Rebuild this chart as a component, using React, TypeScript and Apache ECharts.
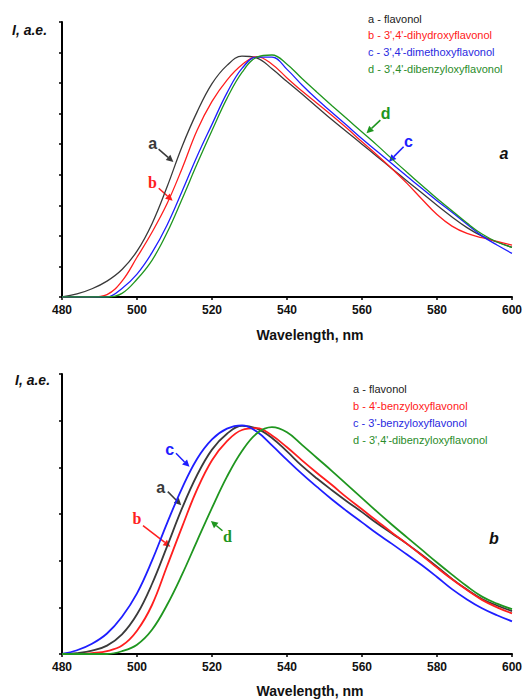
import React, { useEffect, useRef } from "react";
import * as echarts from "echarts";

// Wavelength grid (nm) shared by all spectra
const wavelengths = [480, 484, 488, 492, 496, 500, 504, 508, 512, 516, 520, 524, 528, 532, 536, 540, 544, 548, 552, 556, 560, 564, 568, 572, 576, 580, 584, 588, 592, 596, 600];

// Panel a
const topFlavonol = [0, 0.1, 0.27, 0.52, 0.9, 1.5, 2.4, 3.6, 4.92, 6.05, 6.98, 7.58, 7.88, 7.82, 7.47, 7.05, 6.64, 6.22, 5.8, 5.4, 5.0, 4.6, 4.2, 3.8, 3.4, 3.0, 2.62, 2.27, 1.99, 1.8, 1.63];
const topDihydroxy = [0, 0, 0, 0.08, 0.52, 1.3, 2.12, 3.05, 4.2, 5.45, 6.4, 7.1, 7.6, 7.87, 7.62, 7.17, 6.74, 6.34, 5.94, 5.52, 5.08, 4.65, 4.2, 3.72, 3.2, 2.7, 2.32, 2.08, 1.94, 1.82, 1.7];
const topDimethoxy = [0, 0, 0, 0, 0.28, 0.75, 1.45, 2.35, 3.45, 4.6, 5.65, 6.68, 7.48, 7.85, 7.85, 7.45, 6.94, 6.47, 6.04, 5.61, 5.18, 4.77, 4.36, 3.95, 3.55, 3.15, 2.77, 2.38, 2.0, 1.7, 1.43];
const topDibenzyloxy = [0, 0, 0, 0, 0.12, 0.58, 1.2, 2.1, 3.2, 4.35, 5.45, 6.5, 7.35, 7.85, 7.92, 7.62, 7.15, 6.7, 6.26, 5.83, 5.4, 4.97, 4.52, 4.08, 3.65, 3.22, 2.82, 2.42, 2.06, 1.8, 1.62];

// Panel b
const botFlavonol = [0, 0.02, 0.07, 0.18, 0.42, 0.85, 1.5, 2.3, 3.12, 3.83, 4.38, 4.72, 4.89, 4.83, 4.63, 4.34, 4.03, 3.76, 3.51, 3.27, 3.04, 2.8, 2.58, 2.36, 2.12, 1.87, 1.61, 1.38, 1.18, 1.04, 0.92];
const bot4Benzyloxy = [0, 0, 0.02, 0.06, 0.18, 0.5, 1.05, 1.88, 2.72, 3.52, 4.15, 4.56, 4.8, 4.84, 4.68, 4.43, 4.15, 3.88, 3.62, 3.35, 3.1, 2.85, 2.6, 2.36, 2.11, 1.85, 1.6, 1.37, 1.16, 1.0, 0.87];
const bot3Benzyloxy = [0, 0.08, 0.22, 0.44, 0.8, 1.3, 2.0, 2.8, 3.55, 4.18, 4.6, 4.83, 4.9, 4.76, 4.47, 4.16, 3.86, 3.58, 3.31, 3.06, 2.82, 2.58, 2.36, 2.13, 1.9, 1.65, 1.39, 1.17, 0.98, 0.83, 0.7];
const botDibenzyloxy = [0, 0, 0, 0, 0.06, 0.2, 0.52, 1.05, 1.7, 2.42, 3.13, 3.8, 4.35, 4.73, 4.86, 4.75, 4.48, 4.2, 3.92, 3.63, 3.34, 3.05, 2.77, 2.5, 2.23, 1.96, 1.7, 1.45, 1.23, 1.08, 0.96];

const xMin = 480;
const xMax = 600;
const xStep = 20;
const topYMax = 9;
const botYMax = 6;

const topLegend = ["a - flavonol", "b - 3',4'-dihydroxyflavonol", "c - 3',4'-dimethoxyflavonol", "d - 3',4'-dibenzyloxyflavonol"];
const botLegend = ["a - flavonol", "b - 4'-benzyloxyflavonol", "c - 3'-benzyloxyflavonol", "d - 3',4'-dibenzyloxyflavonol"];

const COLORS = ["#3a3a3a", "#ff1e1e", "#1e1eff", "#1f961f"];
const LEGEND_COLORS = ["#222222", "#ff2020", "#2a2ae0", "#2a8c2a"];

// Arrow annotations in data coordinates: [grid, letter, colorIndex, label, from, to, serif]
const annotations: [number, string, number, number[], number[], number[], boolean][] = [
  [0, "a", 0, [504.2, 5.01], [505.75, 4.84], [509.7, 4.42], false],
  [0, "b", 1, [504.1, 3.74], [505.8, 3.56], [509.5, 3.15], true],
  [0, "d", 3, [566.3, 6.02], [564.9, 5.79], [561.2, 5.36], false],
  [0, "c", 2, [572.4, 5.08], [571.1, 4.92], [567.2, 4.43], false],
  [1, "c", 2, [508.7, 4.39], [510.4, 4.3], [514.0, 4.01], false],
  [1, "a", 0, [506.3, 3.56], [508.2, 3.48], [511.8, 3.19], false],
  [1, "b", 1, [500.0, 2.9], [501.6, 2.75], [508.9, 2.3], true],
  [1, "d", 3, [524.1, 2.51], [522.8, 2.64], [519.7, 2.85], true],
];

const pairs = (ys: number[]) => wavelengths.map((x, i) => [x, ys[i]]);

export default function App() {
  const ref = useRef<HTMLDivElement>(null);
  useEffect(() => {
    if (!ref.current) return;
    const chart = echarts.init(ref.current, null, { renderer: "svg" });
    const xAxisBase = (gridIndex: number) => ({
      type: "value",
      gridIndex,
      min: xMin,
      max: xMax,
      interval: xStep,
      axisLine: { show: true, lineStyle: { color: "#000", width: 2 } },
      axisTick: { show: true, inside: false, length: 3, lineStyle: { color: "#000", width: 1.5 } },
      axisLabel: { color: "#111", fontSize: 12, fontWeight: "bold", fontFamily: "Liberation Sans, Arial, sans-serif", margin: 7 },
      splitLine: { show: false },
    });
    const yAxisBase = (gridIndex: number, max: number) => ({
      type: "value",
      gridIndex,
      min: 0,
      max,
      interval: 1,
      axisLine: { show: true, lineStyle: { color: "#000", width: 2 } },
      axisTick: { show: true, inside: false, length: 3, lineStyle: { color: "#000", width: 1.5 } },
      axisLabel: { show: false },
      splitLine: { show: false },
    });
    const mk = (name: string, ys: number[], idx: number, gi: number, w: number) => ({
      name,
      type: "line",
      xAxisIndex: gi,
      yAxisIndex: gi,
      data: pairs(ys),
      smooth: 0.4,
      showSymbol: false,
      lineStyle: { color: COLORS[idx], width: w },
      itemStyle: { color: COLORS[idx] },
    });
    chart.setOption({
      animation: false,
      backgroundColor: "#fff",
      grid: [
        { left: 62, top: 22, width: 452, height: 275 },
        { left: 62, top: 374, width: 452, height: 280 },
      ],
      xAxis: [xAxisBase(0), xAxisBase(1)],
      yAxis: [yAxisBase(0, topYMax), yAxisBase(1, botYMax)],
      series: [
        mk("a1", topFlavonol, 0, 0, 1.3),
        mk("b1", topDihydroxy, 1, 0, 1.3),
        mk("c1", topDimethoxy, 2, 0, 1.3),
        mk("d1", topDibenzyloxy, 3, 0, 1.3),
        mk("a2", botFlavonol, 0, 1, 1.8),
        mk("b2", bot4Benzyloxy, 1, 1, 1.8),
        mk("c2", bot3Benzyloxy, 2, 1, 1.8),
        mk("d2", botDibenzyloxy, 3, 1, 1.8),
      ],
    });

    const graphics: any[] = [];
    const sans = "Liberation Sans, Arial, sans-serif";
    const addText = (text: string, x: number, y: number, font: string, fill: string, align = "left") => {
      graphics.push({
        type: "text",
        x,
        y,
        style: { text, font, fill, textAlign: align, textVerticalAlign: "middle" },
      });
    };
    // axis titles
    addText("I, a.e.", 12, 30, `italic bold 14px ${sans}`, "#111");
    addText("I, a.e.", 15, 380, `italic bold 14px ${sans}`, "#111");
    addText("Wavelength, nm", 310, 335, `bold 14px ${sans}`, "#111", "center");
    addText("Wavelength, nm", 310, 691, `bold 14px ${sans}`, "#111", "center");
    // panel labels
    addText("a", 504, 153, `italic bold 16px ${sans}`, "#111", "center");
    addText("b", 494, 538, `italic bold 16px ${sans}`, "#111", "center");
    // legends
    topLegend.forEach((t, i) => addText(t, 368, 18.5 + i * 16.9, `11px ${sans}`, LEGEND_COLORS[i]));
    botLegend.forEach((t, i) => addText(t, 353, 388.5 + i * 17.1, `11px ${sans}`, LEGEND_COLORS[i]));

    annotations.forEach(([gi, letter, ci, lab, from, to, serif]) => {
      const p = chart.convertToPixel({ gridIndex: gi }, lab) as number[];
      const a = chart.convertToPixel({ gridIndex: gi }, from) as number[];
      const b = chart.convertToPixel({ gridIndex: gi }, to) as number[];
      const col = COLORS[ci];
      addText(letter, p[0], p[1], `bold 16px ${serif ? "Liberation Serif, serif" : sans}`, col, "center");
      const dx = b[0] - a[0];
      const dy = b[1] - a[1];
      const len = Math.sqrt(dx * dx + dy * dy) || 1;
      const ux = dx / len;
      const uy = dy / len;
      const head = 7;
      const half = 3.5;
      const bx = b[0] - ux * head;
      const by = b[1] - uy * head;
      graphics.push({
        type: "line",
        shape: { x1: a[0], y1: a[1], x2: bx, y2: by },
        style: { stroke: col, lineWidth: 1.5 },
      });
      graphics.push({
        type: "polygon",
        shape: {
          points: [
            [b[0], b[1]],
            [bx - uy * half, by + ux * half],
            [bx + uy * half, by - ux * half],
          ],
        },
        style: { fill: col },
      });
    });
    chart.setOption({ graphic: graphics });
    return () => chart.dispose();
  }, []);
  return <div ref={ref} style={{ position: "absolute", left: 0, top: 0, width: 525, height: 700 }} />;
}
